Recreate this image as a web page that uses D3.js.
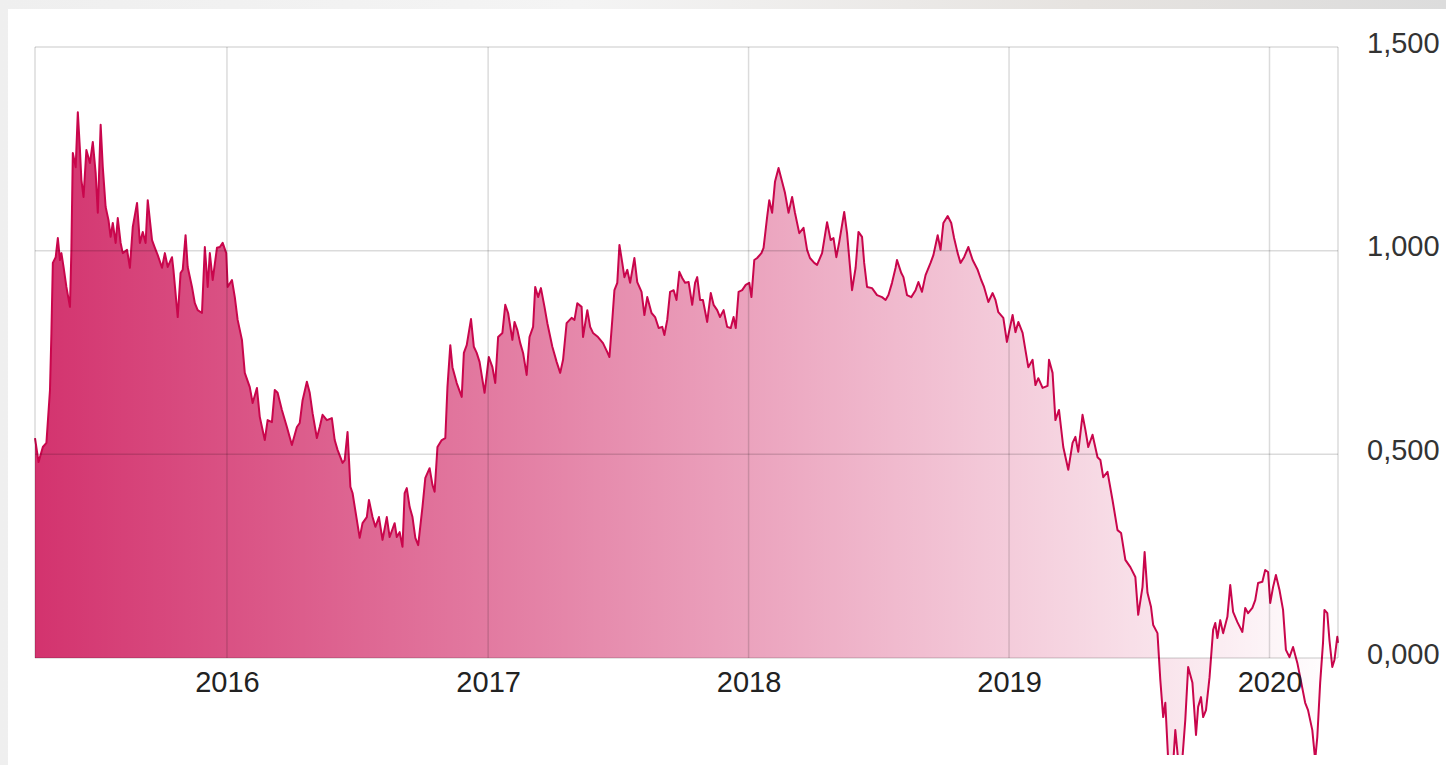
<!DOCTYPE html>
<html>
<head>
<meta charset="utf-8">
<title>Chart</title>
<script src="https://cdn.jsdelivr.net/npm/d3@7"></script>
<style>
  html, body { margin: 0; padding: 0; }
  body { width: 1446px; height: 765px; overflow: hidden;
         background: linear-gradient(90deg, #efefef, #f4f4f4 40%, #e6e3e0 75%, #dcdcdc); }
  .panel { position: absolute; left: 8px; top: 9px; width: 1438px; height: 756px; background: #fff; }
  svg { position: absolute; left: 0; top: 0; }
  .tick text { font-family: "Liberation Sans", Arial, sans-serif; font-size: 29px; }
</style>
</head>
<body>
<div class="panel"></div>
<svg width="1446" height="765"></svg>
<script>
// series
var dates = [
  "2015-04-07","2015-04-12","2015-04-18","2015-04-23","2015-04-28","2015-04-30","2015-05-02","2015-05-06","2015-05-09","2015-05-12",
  "2015-05-14","2015-05-17","2015-05-21","2015-05-26","2015-05-28","2015-05-30","2015-06-03","2015-06-06","2015-06-09","2015-06-11",
  "2015-06-14","2015-06-18","2015-06-23","2015-06-27","2015-07-01","2015-07-04","2015-07-08","2015-07-11","2015-07-15","2015-07-19",
  "2015-07-22","2015-07-25","2015-07-29","2015-08-01","2015-08-05","2015-08-08","2015-08-14","2015-08-18","2015-08-22","2015-08-28",
  "2015-09-01","2015-09-05","2015-09-09","2015-09-12","2015-09-18","2015-09-22","2015-09-26","2015-10-02","2015-10-06","2015-10-10",
  "2015-10-16","2015-10-18","2015-10-24","2015-10-28","2015-10-31","2015-11-04","2015-11-07","2015-11-13","2015-11-17","2015-11-21",
  "2015-11-27","2015-12-01","2015-12-05","2015-12-08","2015-12-12","2015-12-18","2015-12-22","2015-12-26","2015-12-31",
  "2016-01-02","2016-01-08","2016-01-12","2016-01-16","2016-01-22","2016-01-26","2016-02-02","2016-02-06","2016-02-12","2016-02-16",
  "2016-02-23","2016-02-27","2016-03-04","2016-03-08","2016-03-12","2016-03-18","2016-03-25","2016-04-01","2016-04-08","2016-04-12",
  "2016-04-16","2016-04-22","2016-04-26","2016-04-30","2016-05-06","2016-05-10","2016-05-14","2016-05-20","2016-05-27","2016-05-31",
  "2016-06-04","2016-06-11","2016-06-14","2016-06-18","2016-06-22","2016-06-25","2016-07-01","2016-07-05","2016-07-09","2016-07-15",
  "2016-07-18","2016-07-23","2016-07-27","2016-08-01","2016-08-06","2016-08-12","2016-08-16","2016-08-23","2016-08-26","2016-08-30",
  "2016-09-03","2016-09-06","2016-09-09","2016-09-13","2016-09-17","2016-09-21","2016-09-25","2016-10-01","2016-10-05","2016-10-11",
  "2016-10-15","2016-10-18","2016-10-22","2016-10-28","2016-11-02","2016-11-05","2016-11-09","2016-11-12","2016-11-18","2016-11-25",
  "2016-11-28","2016-12-02","2016-12-08","2016-12-12","2016-12-16","2016-12-20","2016-12-27",
  "2017-01-02","2017-01-07","2017-01-11","2017-01-15","2017-01-21","2017-01-25","2017-01-29","2017-02-04","2017-02-07","2017-02-11",
  "2017-02-15","2017-02-19","2017-02-24","2017-02-28","2017-03-05","2017-03-08","2017-03-12","2017-03-16","2017-03-21","2017-03-25",
  "2017-04-01","2017-04-07","2017-04-12","2017-04-16","2017-04-21","2017-04-28","2017-05-02","2017-05-06","2017-05-12","2017-05-14",
  "2017-05-20","2017-05-24","2017-05-28","2017-06-04","2017-06-11","2017-06-17","2017-06-20","2017-06-24","2017-06-27","2017-07-01",
  "2017-07-04","2017-07-08","2017-07-11","2017-07-15","2017-07-19","2017-07-25","2017-07-29","2017-08-04","2017-08-08","2017-08-12",
  "2017-08-18","2017-08-23","2017-08-28","2017-09-02","2017-09-05","2017-09-09","2017-09-13","2017-09-18","2017-09-22","2017-09-26",
  "2017-09-30","2017-10-04","2017-10-09","2017-10-14","2017-10-18","2017-10-21","2017-10-25","2017-10-29","2017-11-04","2017-11-09",
  "2017-11-13","2017-11-18","2017-11-22","2017-11-27","2017-12-02","2017-12-07","2017-12-11","2017-12-14","2017-12-18","2017-12-23",
  "2017-12-28",
  "2018-01-02","2018-01-05","2018-01-09","2018-01-13","2018-01-19","2018-01-22","2018-01-27","2018-01-30","2018-02-03","2018-02-07",
  "2018-02-12","2018-02-17","2018-02-21","2018-02-26","2018-03-03","2018-03-07","2018-03-13","2018-03-19","2018-03-24","2018-03-28",
  "2018-04-03","2018-04-07","2018-04-14","2018-04-21","2018-04-26","2018-04-30","2018-05-04","2018-05-08","2018-05-15","2018-05-19",
  "2018-05-26","2018-05-31","2018-06-04","2018-06-09","2018-06-12","2018-06-16","2018-06-23","2018-06-30","2018-07-07","2018-07-12",
  "2018-07-16","2018-07-21","2018-07-26","2018-07-28","2018-08-03","2018-08-06","2018-08-11","2018-08-17","2018-08-23","2018-08-27",
  "2018-09-01","2018-09-06","2018-09-13","2018-09-17","2018-09-23","2018-09-27","2018-10-01","2018-10-07","2018-10-12","2018-10-16",
  "2018-10-21","2018-10-25","2018-10-30","2018-11-05","2018-11-11","2018-11-18","2018-11-23","2018-11-27","2018-12-03","2018-12-09",
  "2018-12-13","2018-12-17","2018-12-24","2018-12-29",
  "2019-01-06","2019-01-10","2019-01-14","2019-01-20","2019-01-24","2019-01-28","2019-02-03","2019-02-07","2019-02-11","2019-02-17",
  "2019-02-24","2019-02-26","2019-03-03","2019-03-07","2019-03-12","2019-03-18","2019-03-25","2019-03-31","2019-04-04","2019-04-08",
  "2019-04-14","2019-04-18","2019-04-22","2019-04-28","2019-05-05","2019-05-09","2019-05-13","2019-05-19","2019-05-26","2019-06-02",
  "2019-06-07","2019-06-13","2019-06-20","2019-06-27","2019-07-01","2019-07-07","2019-07-10","2019-07-14","2019-07-19","2019-07-22",
  "2019-07-28","2019-08-01","2019-08-05","2019-08-08","2019-08-12","2019-08-19","2019-08-22","2019-08-26","2019-09-01","2019-09-05",
  "2019-09-09","2019-09-15","2019-09-20","2019-09-23","2019-09-27","2019-09-30","2019-10-04","2019-10-09","2019-10-14","2019-10-17",
  "2019-10-20","2019-10-24","2019-10-28","2019-11-03","2019-11-07","2019-11-11","2019-11-17","2019-11-24","2019-11-28","2019-12-02",
  "2019-12-08","2019-12-12","2019-12-16","2019-12-22","2019-12-26","2019-12-30",
  "2020-01-02","2020-01-06","2020-01-10","2020-01-15","2020-01-20","2020-01-24","2020-01-29","2020-02-03","2020-02-09","2020-02-13",
  "2020-02-20","2020-02-24","2020-03-01","2020-03-05","2020-03-08","2020-03-12","2020-03-16","2020-03-18","2020-03-22","2020-03-25",
  "2020-03-29","2020-04-01","2020-04-05","2020-04-06"
];

var values = [
  0.540,0.481,0.518,0.528,0.658,0.798,0.970,0.984,1.031,0.977,
  0.994,0.960,0.911,0.862,1.002,1.240,1.205,1.340,1.247,1.174,
  1.132,1.247,1.215,1.267,1.191,1.093,1.309,1.205,1.107,1.075,
  1.034,1.068,1.019,1.080,1.019,0.994,1.002,0.958,1.058,1.117,
  1.019,1.046,1.019,1.124,1.026,1.007,0.989,0.958,0.994,0.960,
  0.984,0.953,0.837,0.945,0.953,1.038,0.960,0.911,0.871,0.854,
  0.847,1.009,0.911,0.994,0.928,1.007,1.009,1.019,0.994,
  0.911,0.928,0.886,0.830,0.781,0.700,0.665,0.626,0.663,0.592,
  0.535,0.584,0.579,0.658,0.651,0.609,0.567,0.523,0.567,0.577,
  0.633,0.678,0.651,0.601,0.540,0.567,0.597,0.584,0.589,0.535,
  0.511,0.479,0.486,0.555,0.420,0.405,0.339,0.295,0.331,0.346,
  0.388,0.346,0.322,0.346,0.290,0.346,0.297,0.331,0.297,0.309,
  0.273,0.405,0.417,0.371,0.346,0.295,0.277,0.371,0.442,0.466,
  0.425,0.408,0.518,0.535,0.540,0.665,0.768,0.714,0.675,0.641,
  0.749,0.768,0.832,0.764,0.749,0.727,0.651,
  0.739,0.714,0.675,0.788,0.798,0.867,0.847,0.781,0.825,0.805,
  0.773,0.749,0.695,0.788,0.813,0.911,0.886,0.908,0.862,0.822,
  0.764,0.727,0.700,0.732,0.822,0.835,0.830,0.871,0.862,0.788,
  0.854,0.813,0.798,0.788,0.773,0.751,0.739,0.830,0.903,0.921,
  1.014,0.970,0.935,0.953,0.921,0.982,0.923,0.899,0.842,0.886,
  0.847,0.837,0.810,0.813,0.793,0.830,0.899,0.903,0.879,0.948,
  0.933,0.921,0.923,0.867,0.921,0.935,0.879,0.879,0.825,0.896,
  0.867,0.854,0.837,0.854,0.813,0.810,0.837,0.810,0.899,0.903,
  0.916,
  0.921,0.886,0.977,0.982,0.994,1.007,1.083,1.124,1.093,1.169,
  1.203,1.169,1.142,1.093,1.132,1.093,1.043,1.056,1.002,0.982,
  0.970,0.965,0.994,1.070,1.026,1.031,0.984,1.021,1.095,1.043,
  0.903,0.958,1.046,1.034,0.970,0.911,0.908,0.891,0.886,0.879,
  0.891,0.921,0.958,0.977,0.945,0.935,0.891,0.886,0.903,0.923,
  0.899,0.940,0.970,0.989,1.038,1.002,1.068,1.085,1.068,1.031,
  0.994,0.970,0.984,1.009,0.977,0.953,0.928,0.911,0.874,0.896,
  0.879,0.849,0.835,0.776,
  0.842,0.800,0.825,0.798,0.756,0.714,0.732,0.670,0.687,0.663,
  0.668,0.732,0.700,0.584,0.609,0.518,0.462,0.528,0.543,0.506,
  0.597,0.560,0.518,0.548,0.493,0.486,0.444,0.457,0.388,0.314,
  0.307,0.241,0.223,0.199,0.106,0.174,0.260,0.160,0.125,0.081,
  0.061,-0.054,-0.145,-0.110,-0.250,-0.260,-0.177,-0.250,-0.245,-0.152,
  -0.022,-0.061,-0.189,-0.120,-0.096,-0.145,-0.128,-0.047,0.069,0.086,
  0.049,0.093,0.061,0.101,0.179,0.113,0.088,0.064,0.123,0.110,
  0.123,0.142,0.184,0.187,0.216,0.211,
  0.135,0.174,0.204,0.167,0.118,0.020,0.002,0.027,-0.012,-0.047,
  -0.110,-0.128,-0.177,-0.250,-0.194,-0.061,0.037,0.118,0.110,0.044,
  -0.022,-0.005,0.052,0.037
];

var yTicks = [0, 0.5, 1, 1.5];

(function () {
  var parse = d3.timeParse("%Y-%m-%d");
  var data = dates.map(function (d, i) { return { date: parse(d), value: values[i] } });

  var mLeft = 35, mRight = 1338, mTop = 47, mBottom = 658, clipBottom = 755;

  var x = d3.scaleTime()
    .domain([parse("2015-04-07"), parse("2020-04-06")])
    .range([mLeft, mRight]);

  var y = d3.scaleLinear()
    .domain([0, 1.5])
    .range([mBottom, mTop]);

  var fmt = d3.formatLocale({ decimal: ",", thousands: ".", grouping: [3], currency: ["", ""] }).format(".3f");

  var svg = d3.select("svg");
  var defs = svg.append("defs");

  var grad = defs.append("linearGradient")
    .attr("id", "fade")
    .attr("gradientUnits", "userSpaceOnUse")
    .attr("x1", mLeft).attr("x2", mRight).attr("y1", 0).attr("y2", 0);
  grad.append("stop").attr("offset", 0).attr("stop-color", "#c8004a").attr("stop-opacity", 0.8);
  grad.append("stop").attr("offset", 1).attr("stop-color", "#c8004a").attr("stop-opacity", 0.0);

  defs.append("clipPath").attr("id", "clip")
    .append("rect").attr("x", 0).attr("y", 0).attr("width", 1446).attr("height", clipBottom);

  var plot = svg.append("g").attr("clip-path", "url(#clip)");

  plot.append("path")
    .datum(data)
    .attr("fill", "url(#fade)")
    .attr("d", d3.area().x(function (d) { return x(d.date) }).y0(y(0)).y1(function (d) { return y(d.value) }));

  // grid on top of the fill
  var grid = svg.append("g").attr("stroke", "rgba(0,0,0,0.14)").attr("stroke-width", 1.5).attr("fill", "none");

  grid.selectAll(".h").data(yTicks).enter().append("line")
    .attr("x1", mLeft).attr("x2", mRight)
    .attr("y1", function (d) { return y(d) }).attr("y2", function (d) { return y(d) });

  var vlines = x.ticks(d3.timeYear).concat(x.domain());
  grid.selectAll(".v").data(vlines).enter().append("line")
    .attr("x1", function (d) { return x(d) }).attr("x2", function (d) { return x(d) })
    .attr("y1", mTop).attr("y2", mBottom);

  var xAxis = svg.append("g")
    .attr("transform", "translate(0," + mBottom + ")")
    .call(d3.axisBottom(x).ticks(d3.timeYear).tickFormat(d3.timeFormat("%Y")).tickSize(0).tickPadding(13));
  xAxis.select(".domain").remove();
  xAxis.selectAll("text").attr("fill", "#222");

  var yAxis = svg.append("g")
    .attr("transform", "translate(" + mRight + ",0)")
    .call(d3.axisRight(y).tickValues(yTicks).tickFormat(fmt).tickSize(0).tickPadding(29));
  yAxis.select(".domain").remove();
  yAxis.selectAll("text").attr("fill", "#333").attr("dy", "0.18em");

  plot.append("path")
    .datum(data)
    .attr("fill", "none")
    .attr("stroke", "#c9064c")
    .attr("stroke-width", 2)
    .attr("stroke-linejoin", "round")
    .attr("d", d3.line().x(function (d) { return x(d.date) }).y(function (d) { return y(d.value) }));
})();
</script>
</body>
</html>
